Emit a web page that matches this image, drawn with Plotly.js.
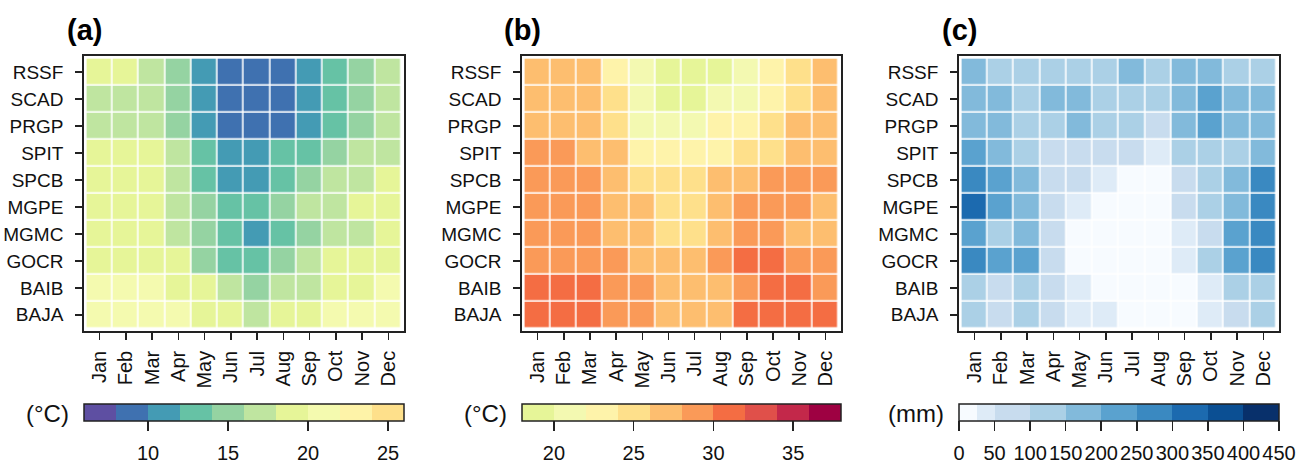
<!DOCTYPE html>
<html>
<head>
<meta charset="utf-8">
<script src="https://cdn.plot.ly/plotly-3.0.1.min.js"></script>
<style>html,body{margin:0;padding:0;background:#fff;}#chart{width:1304px;height:465px;}</style>
</head>
<body>
<div id="chart"></div>
<script>
// ---------- data ----------
const months = ['Jan','Feb','Mar','Apr','May','Jun','Jul','Aug','Sep','Oct','Nov','Dec'];
const stations = ['RSSF','SCAD','PRGP','SPIT','SPCB','MGPE','MGMC','GOCR','BAIB','BAJA'];

// (a) minimum temperature (°C), rows = stations, cols = months
const tempMin = [
  [19.2,19.0,17.1,15.2,11.1, 9.0, 8.8, 9.1,11.2,13.1,15.0,17.0],
  [17.2,17.0,16.9,15.1,11.0, 9.1, 8.9, 9.0,11.1,13.0,15.1,17.1],
  [17.0,17.1,17.0,15.0,10.9, 8.9, 8.8, 9.0,11.0,13.1,15.0,17.2],
  [19.1,19.0,18.9,17.0,13.1,11.0,10.9,12.9,13.2,15.1,17.0,17.1],
  [19.2,19.1,19.0,17.1,13.0,11.1,11.0,13.0,15.0,17.0,17.2,19.0],
  [19.3,19.1,19.0,17.2,15.0,13.1,12.9,15.1,16.9,17.1,19.0,19.2],
  [19.2,19.1,19.0,17.0,15.1,13.0,11.1,13.1,15.0,17.0,17.1,19.1],
  [19.0,19.0,18.9,18.8,15.0,13.0,12.9,15.1,17.1,19.0,18.9,19.1],
  [21.1,21.0,20.9,19.1,19.0,17.0,15.1,17.0,17.1,19.0,18.9,21.0],
  [21.2,21.1,21.0,20.9,19.1,19.0,17.1,19.0,19.1,21.0,21.1,21.2]
];
// (b) maximum temperature (°C)
const tempMax = [
  [27.0,27.1,26.9,23.0,21.0,19.0,19.1,19.0,21.0,23.1,25.0,27.0],
  [27.1,27.0,26.9,25.1,21.1,19.1,19.0,21.0,21.1,22.9,25.0,27.1],
  [27.0,27.0,27.1,25.0,21.0,20.9,21.0,23.0,23.1,25.1,27.0,27.1],
  [29.1,29.0,27.1,27.0,23.1,23.0,22.9,23.0,25.0,25.1,27.0,27.1],
  [29.2,29.1,29.0,27.1,25.0,25.1,24.9,27.0,27.1,29.0,29.1,29.0],
  [29.1,29.0,29.1,27.0,26.9,25.1,25.0,27.1,29.0,29.1,29.0,27.1],
  [29.0,29.1,29.0,27.1,27.0,25.0,25.1,27.0,29.1,29.0,27.1,27.0],
  [29.1,29.0,29.1,29.0,27.1,27.0,27.1,29.0,31.1,31.0,29.1,29.0],
  [31.2,31.1,31.0,29.1,29.0,27.1,27.0,27.1,29.0,31.0,31.1,29.1],
  [31.1,31.2,31.0,29.0,29.1,27.0,27.1,27.0,31.0,31.1,31.0,31.1]
];
// (c) precipitation (mm)
const precip = [
  [172,128,126,124,127,122,176,125,174,178,124,126],
  [178,174,124,176,173,126,123,127,178,226,176,173],
  [174,177,126,123,172,124,126, 76,177,228,174,176],
  [226,176,126, 78, 74, 72, 76, 38,124,127,126,174],
  [276,227,176, 76, 74, 38, 12, 10, 76,124,178,277],
  [327,224,173, 74, 36, 11,  8,  9, 74,126,176,276],
  [224,126,174, 76, 14, 10,  8, 11, 37, 76,226,277],
  [278,226,224, 75, 13,  9,  7, 10, 38,126,227,276],
  [124, 77,126, 74, 36, 12,  9, 10, 14, 38,124,126],
  [126, 74,127, 76, 37, 34, 11,  9, 12, 36, 76,126]
];

// colour bins (edges) and colours of each legend
const edgesA = [6,8,10,12,14,16,18,20,22,24,26];
const colorsA = ['#5E4FA2','#3F71B0','#449BB4','#66C2A5','#95D3A2','#BFE5A0','#E6F598','#F4FAAF','#FEF3A8','#FEE08B'];
const ticksA = [10,15,20,25];

const edgesB = [18,20,22,24,26,28,30,32,34,36,38];
const colorsB = ['#E6F598','#F3F9B1','#FEF3AA','#FEE08B','#FDBE6F','#FA9A58','#F46D43','#E0504A','#C3284A','#9E0142'];
const ticksB = [20,25,30,35];

const edgesC = [0,25,50,100,150,200,250,300,350,400,450];
const colorsC = ['#F7FBFF','#DEEBF7','#C8DCEE','#ABD0E6','#82BADB','#5AA2CF','#3A89C1','#1C6AAF','#0B4F93','#08306B'];
const ticksC = [0,50,100,150,200,250,300,350,400,450];

const panelLabels = ['(a)','(b)','(c)'];
const unitLabels = ['(°C)','(°C)','(mm)'];

// ---------- build ----------
const W = 1304, H = 465;
const FONT = 'Arial, "Liberation Sans", sans-serif';
const CLEAR = 'rgba(0,0,0,0)';

function stepScale(edges, colors){
  const lo = edges[0], hi = edges[edges.length-1];
  const cs = [];
  for (let i = 0; i < colors.length; i++){
    cs.push([(edges[i]-lo)/(hi-lo), colors[i]]);
    cs.push([(edges[i+1]-lo)/(hi-lo), colors[i]]);
  }
  return cs;
}

const panels = [
  {z: tempMin, edges: edgesA, colors: colorsA, ticks: ticksA, left: 84, right: 404},
  {z: tempMax, edges: edgesB, colors: colorsB, ticks: ticksB, left: 522, right: 841},
  {z: precip,  edges: edgesC, colors: colorsC, ticks: ticksC, left: 959, right: 1279}
];

const plotTop = 56, plotBottom = 331;
const xIdx = months.map((m,i)=>i);
const yIdx = stations.map((s,i)=>i);

const data = [];
const layout = {
  width: W, height: H,
  margin: {l:0, r:0, t:0, b:0, pad:0},
  paper_bgcolor: '#fff', plot_bgcolor: '#fff',
  font: {family: FONT, size: 19, color: '#111'},
  showlegend: false,
  annotations: []
};

panels.forEach((p, k) => {
  const ax = k === 0 ? '' : String(k+1);
  const cbCenter = (p.left + p.right) / 2;
  const cbBase = {
    orientation: 'h',
    x: cbCenter / W, xanchor: 'center',
    y: 1 - 404 / H, yanchor: 'top',
    len: p.right - p.left, lenmode: 'pixels',
    thickness: 17, thicknessmode: 'pixels',
    xpad: 0, ypad: 0,
    tickmode: 'array', tickvals: p.ticks, ticktext: p.ticks.map(String),
    ticks: 'outside', tickwidth: 1.5
  };
  // label-only colour bar (transparent) carrying the tick labels a little lower
  data.push({
    type: 'heatmap',
    x: xIdx, y: yIdx, z: p.z,
    xaxis: 'x' + ax, yaxis: 'y' + ax,
    zmin: p.edges[0], zmax: p.edges[p.edges.length-1],
    colorscale: [[0, CLEAR],[1, CLEAR]],
    hoverinfo: 'skip',
    colorbar: Object.assign({}, cbBase, {
      outlinewidth: 0, ticklen: 15, tickcolor: CLEAR,
      tickfont: {family: FONT, size: 20, color: '#111'}
    })
  });
  // visible heatmap and colour bar
  data.push({
    type: 'heatmap',
    x: xIdx, y: yIdx, z: p.z,
    xaxis: 'x' + ax, yaxis: 'y' + ax,
    zmin: p.edges[0], zmax: p.edges[p.edges.length-1],
    colorscale: stepScale(p.edges, p.colors),
    xgap: 1.6, ygap: 1.6,
    hoverinfo: 'skip',
    colorbar: Object.assign({}, cbBase, {
      outlinewidth: 1.5, outlinecolor: '#222',
      ticklen: 10, tickcolor: '#222', showticklabels: false
    })
  });
  layout['xaxis' + ax] = {
    domain: [p.left / W, p.right / W],
    anchor: 'y' + ax,
    range: [-0.6, 11.6],
    tickmode: 'array', tickvals: xIdx, ticktext: months,
    tickangle: -90,
    ticks: 'outside', ticklen: 7, tickwidth: 1.5, tickcolor: '#222',
    showgrid: false, zeroline: false,
    showline: true, mirror: true, linecolor: '#222', linewidth: 1.8,
    ticklabelstandoff: 3,
    tickfont: {family: FONT, size: 20, color: '#111'},
    fixedrange: true
  };
  layout['yaxis' + ax] = {
    domain: [1 - plotBottom / H, 1 - plotTop / H],
    anchor: 'x' + ax,
    range: [9.6, -0.6],
    tickmode: 'array', tickvals: yIdx, ticktext: stations,
    ticks: 'outside', ticklen: 7, tickwidth: 1.5, tickcolor: '#222',
    showgrid: false, zeroline: false,
    showline: true, mirror: true, linecolor: '#222', linewidth: 1.8,
    ticklabelstandoff: 8,
    tickfont: {family: FONT, size: 19, color: '#111'},
    fixedrange: true
  };
  layout.annotations.push({
    xref: 'paper', yref: 'paper',
    x: p.left / W, y: 1 - 30 / H, xanchor: 'center', yanchor: 'middle',
    text: '<b>' + panelLabels[k] + '</b>', showarrow: false,
    font: {family: FONT, size: 29, color: '#000'}
  });
  layout.annotations.push({
    xref: 'paper', yref: 'paper',
    x: (p.left - 13) / W, y: 1 - 413 / H, xanchor: 'right', yanchor: 'middle',
    text: unitLabels[k], showarrow: false,
    font: {family: FONT, size: 24, color: '#111'}
  });
});

Plotly.newPlot('chart', data, layout, {displayModeBar: false, staticPlot: true});
</script>
</body>
</html>
